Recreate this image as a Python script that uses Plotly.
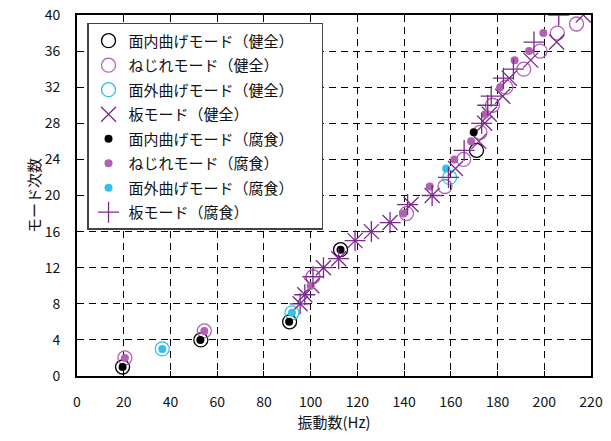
import plotly.graph_objects as go

# ---- data (Hz, mode order) ----
ip_h_x = [19.5, 53.0, 91.0, 112.8, 171.0]
ip_h_y = [1, 4, 6, 14, 25]
tor_h_x = [20.5, 54.5, 101.0, 141.0, 157.5, 165.5, 172.5, 177.8, 183.5, 191.2, 198.2, 205.6, 213.8]
tor_h_y = [2, 5, 11, 18, 21, 24, 27, 30, 32, 34, 36, 38, 39]
oop_h_x = [36.5, 92.0, 159.5]
oop_h_y = [3, 7, 22]
pl_h_x = [95.5, 97.5, 100.5, 105.5, 112.0, 119.0, 126.0, 134.0, 143.0, 152.0, 162.0, 172.0, 174.5, 176.5, 182.2, 185.0, 194.2, 205.3, 216.7]
pl_h_y = [8, 9, 10, 12, 13, 15, 16, 17, 19, 20, 23, 26, 28, 29, 31, 33, 35, 37, 40]

ip_c_x = [19.5, 52.8, 90.8, 112.8, 169.8]
ip_c_y = [1, 4, 6, 14, 27]
tor_c_x = [20.5, 54.5, 100.0, 139.8, 151.0, 161.5, 168.7, 174.7, 181.1, 187.3, 193.5, 199.6]
tor_c_y = [2, 5, 10, 18, 21, 24, 26, 29, 32, 35, 36, 38]
oop_c_x = [36.5, 92.0, 158.0]
oop_c_y = [3, 7, 23]
pl_c_x = [95.5, 97.5, 101.0, 105.5, 112.0, 119.0, 126.0, 134.0, 141.5, 152.0, 159.0, 165.7, 173.2, 175.8, 177.3, 182.5, 186.8, 195.6, 206.2]
pl_c_y = [8, 9, 11, 12, 13, 15, 16, 17, 19, 20, 22, 25, 28, 30, 31, 33, 34, 37, 40]

names = ["面内曲げモード（健全）", "ねじれモード（健全）", "面外曲げモード（健全）", "板モード（健全）",
         "面内曲げモード（腐食）", "ねじれモード（腐食）", "面外曲げモード（腐食）", "板モード（腐食）"]

BLACK = "#000000"
PINK = "#b35fb3"
CYAN = "#33c0ea"
PURPLE = "#7b2a8c"

fig = go.Figure()

def add(i, x, y, symbol, color, size, lw=1.3):
    label = names[i] + ("\u3000\u3000" if i == 0 else "")  # widen legend box slightly
    fig.add_trace(go.Scatter(
        x=x, y=y, mode="markers", name=label, legendgroup="g%d" % i,
        marker=dict(symbol=symbol, size=size, color=color,
                    line=dict(color=color, width=lw)),
    ))

add(0, ip_h_x, ip_h_y, "circle-open", BLACK, 14)
add(1, tor_h_x, tor_h_y, "circle-open", PINK, 14)
add(2, oop_h_x, oop_h_y, "circle-open", CYAN, 14)
add(3, pl_h_x, pl_h_y, "x-thin-open", PURPLE, 15, 1.3)
add(4, ip_c_x, ip_c_y, "circle", BLACK, 8, 0)
add(5, tor_c_x, tor_c_y, "circle", PINK, 8, 0)
add(6, oop_c_x, oop_c_y, "circle", CYAN, 8, 0)
add(7, pl_c_x, pl_c_y, "cross-thin-open", PURPLE, 15, 1.3)

FONT = "Noto Sans CJK JP"

axis_common = dict(
    showgrid=True, gridcolor="#000000", gridwidth=1, griddash="7px,5px",
    showline=True, linecolor="#000000", linewidth=2, mirror="ticks",
    ticks="inside", ticklen=5, tickcolor="#000000", tickwidth=1,
    zeroline=False, automargin=False,
    tickfont=dict(family=FONT, size=14, color="#111111"),
)

fig.update_xaxes(range=[0, 220], dtick=20, tick0=0,
                 title=dict(text="振動数(Hz)", font=dict(family=FONT, size=15, color="#111111"), standoff=8),
                 ticklabelstandoff=12, **axis_common)
fig.update_yaxes(range=[0, 40], dtick=4, tick0=0,
                 title=dict(text="モード次数", font=dict(family=FONT, size=15, color="#111111"), standoff=0),
                 ticklabelstandoff=12, **axis_common)

fig.update_layout(
    width=611, height=441,
    margin=dict(l=77, r=20, t=15, b=65),
    paper_bgcolor="white", plot_bgcolor="white",
    font=dict(family=FONT, size=15, color="#111111"),
    legend=dict(x=0.0195, y=0.978, xanchor="left", yanchor="top",
                bgcolor="white", bordercolor="#444444", borderwidth=1.5,
                font=dict(family=FONT, size=15, color="#111111"),
                tracegroupgap=2, itemwidth=30),
    showlegend=True,
)

fig.write_html("out.html")
